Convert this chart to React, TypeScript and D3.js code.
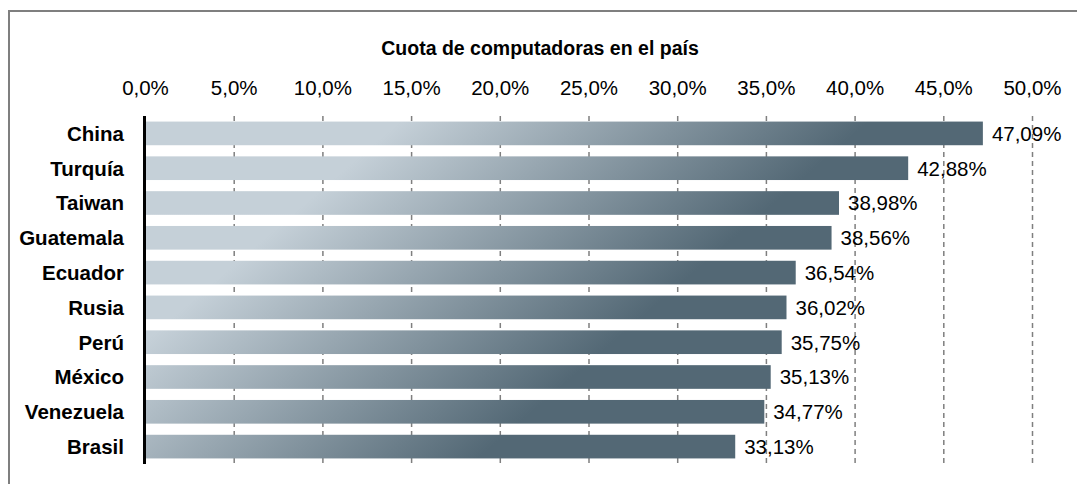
import React from "react";
import * as d3 from "d3";

const categories = ["China", "Turquía", "Taiwan", "Guatemala", "Ecuador", "Rusia", "Perú", "México", "Venezuela", "Brasil"];
const values = [47.09, 42.88, 38.98, 38.56, 36.54, 36.02, 35.75, 35.13, 34.77, 33.13];
const ticks = [0, 5, 10, 15, 20, 25, 30, 35, 40, 45, 50];
const title = "Cuota de computadoras en el país";

const W = 1077;
const H = 484;

const fmt = (v: number, d: number) => v.toFixed(d).replace(".", ",") + "%";

export default function App() {
  const x = d3.scaleLinear().domain([0, 50]).range([145.5, 1032.5]);
  const y = d3.scaleBand<string>().domain(categories).range([116, 464]).paddingInner(0.32).paddingOuter(0.16);
  const font = "Liberation Sans, Arial, sans-serif";
  return (
    <svg width={W} height={H} style={{ position: "absolute", left: 0, top: 0, background: "#fff" }}>
      <defs>
        <linearGradient id="barGrad" gradientUnits="userSpaceOnUse" x1={230} y1={268} x2={430} y2={500}>
          <stop offset="0" stopColor="#c5d0d8" />
          <stop offset="1" stopColor="#536875" />
        </linearGradient>
      </defs>
      <rect x={9} y={11} width={1100} height={520} fill="none" stroke="#7f7f7f" strokeWidth={2} />
      <text x={540} y={55} textAnchor="middle" fontFamily={font} fontWeight="bold" fontSize={19.5} fill="#000">
        {title}
      </text>
      {ticks.map((t) => (
        <text key={"t" + t} x={x(t)} y={95} textAnchor="middle" fontFamily={font} fontSize={20.5} fill="#000">
          {fmt(t, 1)}
        </text>
      ))}
      {ticks.filter((t) => t > 0).map((t) => (
        <line key={"g" + t} x1={x(t)} x2={x(t)} y1={116} y2={464} stroke="#7f7f7f" strokeWidth={1.5} strokeDasharray="5,4" />
      ))}
      {categories.map((c, i) => (
        <rect key={"b" + c} x={x(0)} y={y(c)} width={x(values[i]) - x(0) + 2} height={y.bandwidth()} fill="url(#barGrad)" />
      ))}
      {categories.map((c, i) => (
        <text key={"v" + c} x={x(values[i]) + 11} y={(y(c) as number) + y.bandwidth() / 2} dy="0.36em" fontFamily={font} fontSize={20.5} fill="#000">
          {fmt(values[i], 2)}
        </text>
      ))}
      {categories.map((c) => (
        <text key={"c" + c} x={124} y={(y(c) as number) + y.bandwidth() / 2} dy="0.36em" textAnchor="end" fontFamily={font} fontWeight="bold" fontSize={20.5} fill="#000">
          {c}
        </text>
      ))}
      <line x1={144.5} x2={144.5} y1={116} y2={464} stroke="#000" strokeWidth={3} />
    </svg>
  );
}
